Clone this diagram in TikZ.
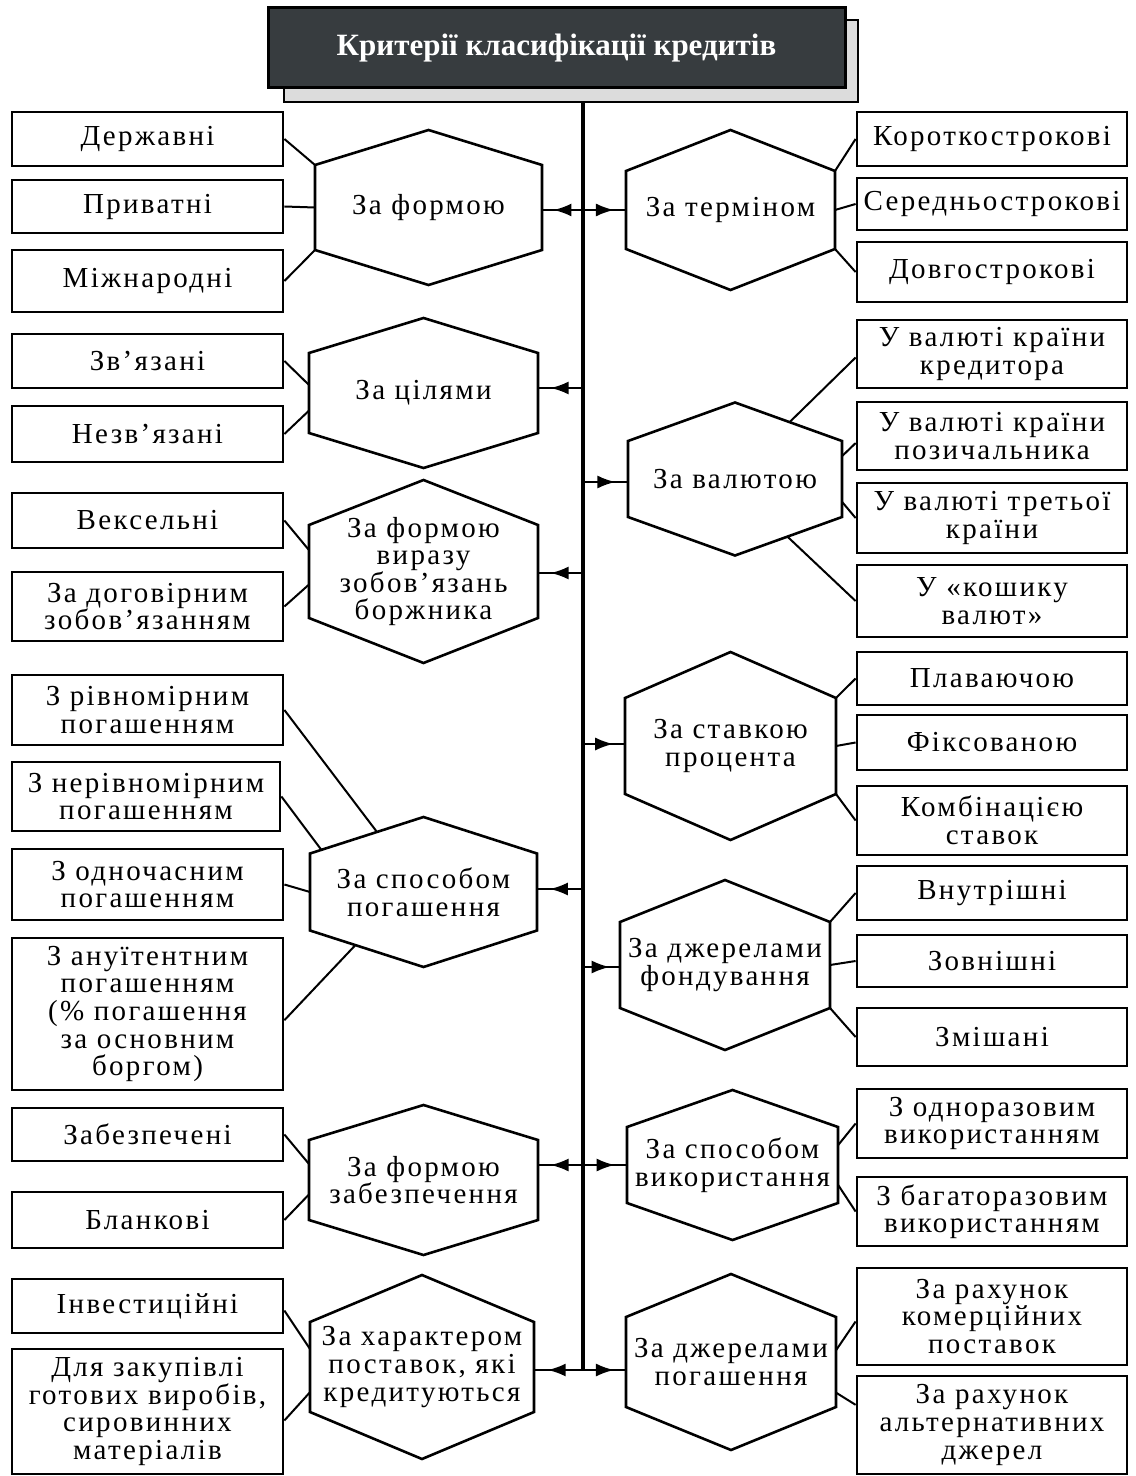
\documentclass[tikz,border=0pt]{standalone}
\usepackage{fontspec}
\setmainfont{Liberation Serif}[LetterSpace=8]
\newfontfamily\tfont{Liberation Serif}
\usetikzlibrary{calc,arrows.meta,decorations.markings}
\definecolor{titlegray}{RGB}{55,60,63}
\definecolor{shadowgray}{RGB}{220,220,220}
\tikzset{
 box/.style={draw, line width=1.4pt, fill=white, align=center, inner sep=1pt,
   font=\fontsize{14.5}{13.8}\selectfont},
 hexline/.style={draw, line width=1.3pt, line join=miter, fill=white},
 hextext/.style={align=center, inner sep=0pt, font=\fontsize{14.5}{13.8}\selectfont},
 link/.style={line width=1pt},
 feed/.style={line width=1pt, postaction={decorate},
   decoration={markings, mark=at position 0.72 with {\arrow{Latex[length=9pt,width=6.5pt]}}}},
}
% \myhex{name}{cx}{cy}{half width}{half height}{half side}{text}
\newcommand{\myhex}[7]{%
 \coordinate (#1-t) at (#2,#3-#5);
 \coordinate (#1-ur) at (#2+#4,#3-#6);
 \coordinate (#1-lr) at (#2+#4,#3+#6);
 \coordinate (#1-b) at (#2,#3+#5);
 \coordinate (#1-ll) at (#2-#4,#3+#6);
 \coordinate (#1-ul) at (#2-#4,#3-#6);
 \coordinate (#1-w) at (#2-#4,#3);
 \coordinate (#1-e) at (#2+#4,#3);
 \draw[hexline] (#1-t)--(#1-ur)--(#1-lr)--(#1-b)--(#1-ll)--(#1-ul)--cycle;
 \node[hextext] (#1) at (#2,#3) {#7};
}
% \bx{name}{cx}{cy}{width px}{height px}{text}
\newcommand{\bx}[6]{%
 \node[box, minimum width=#4*0.5pt, minimum height=#5*0.5pt] (#1) at (#2,#3) {#6};
}
\begin{document}
\begin{tikzpicture}[x=0.5pt,y=-0.5pt]
\useasboundingbox (0,0) rectangle (1135,1476);
% spine
\coordinate (sTop) at (583,102);
\coordinate (sBot) at (583,1370);
\draw[line width=2pt] (sTop) -- (sBot);
% title
\node[draw, line width=1pt, fill=shadowgray, minimum width=574*0.5pt, minimum height=82*0.5pt] (shadow) at (571,61) {};
\node[draw, line width=1.5pt, fill=titlegray, minimum width=577*0.5pt, minimum height=80*0.5pt,
  text=white, font=\tfont\bfseries\fontsize{15.5}{18}\selectfont] (title) at (556.5,48) {Критерії класифікації кредитів};

% spine points
\coordinate (sp1) at (583,210);
\coordinate (sp2) at (583,388);
\coordinate (sp3) at (583,482);
\coordinate (sp4) at (583,573);
\coordinate (sp5) at (583,744);
\coordinate (sp6) at (583,889);
\coordinate (sp7) at (583,967);
\coordinate (sp8) at (583,1165);
\coordinate (sp9) at (583,1370);

% left hexagons
\myhex{H1}{428.5}{207.5}{113.5}{77.5}{42.5}{За формою}
\myhex{H2}{423.5}{393}{114.5}{75}{40}{За цілями}
\myhex{H3}{423.5}{571.5}{114.5}{91.5}{46.5}{За формою\\виразу\\зобов’язань\\боржника}
\myhex{H4}{423.5}{892}{113.5}{75}{38.5}{За способом\\погашення}
\myhex{H5}{423.5}{1180}{114.5}{75}{40}{За формою\\забезпечення}
\myhex{H6}{422}{1367}{112}{92}{45}{За характером\\поставок, які\\кредитуються}
% right hexagons
\myhex{R1}{730.5}{210}{104.5}{80}{39}{За терміном}
\myhex{R2}{735}{479}{107}{76.5}{38}{За валютою}
\myhex{R3}{730.5}{746}{105.5}{94}{48}{За ставкою\\процента}
\myhex{R4}{725}{965}{105}{85}{43}{За джерелами\\фондування}
\myhex{R5}{732.5}{1165}{105.5}{75}{38}{За способом\\використання}
\myhex{R6}{731}{1362}{105}{88}{45}{За джерелами\\погашення}

% feeds from spine
\draw[feed] (sp1) -- (sp1 -| H1-e);
\draw[feed] (sp1) -- (sp1 -| R1-w);
\draw[feed] (sp2) -- (sp2 -| H2-e);
\draw[feed] (sp3) -- (sp3 -| R2-w);
\draw[feed] (sp4) -- (sp4 -| H3-e);
\draw[feed] (sp5) -- (sp5 -| R3-w);
\draw[feed] (sp6) -- (sp6 -| H4-e);
\draw[feed] (sp7) -- (sp7 -| R4-w);
\draw[feed] (sp8) -- (sp8 -| H5-e);
\draw[feed] (sp8) -- (sp8 -| R5-w);
\draw[feed] (sp9) -- (sp9 -| H6-e);
\draw[feed] (sp9) -- (sp9 -| R6-w);

% left boxes
\bx{L1}{147.5}{139}{271}{54}{Державні}
\bx{L2}{147.5}{206.5}{271}{53}{Приватні}
\bx{L3}{147.5}{281}{271}{62}{Міжнародні}
\bx{L4}{147.5}{361}{271}{54}{Зв’язані}
\bx{L5}{147.5}{434}{271}{56}{Незв’язані}
\bx{L6}{147.5}{520.5}{271}{55}{Вексельні}
\bx{L7}{147.5}{606.5}{271}{69}{За договірним\\зобов’язанням}
\bx{L8}{147.5}{710}{271}{70}{З рівномірним\\погашенням}
\bx{L9}{146}{796.5}{268}{69}{З нерівномірним\\погашенням}
\bx{L10}{147.5}{884.5}{271}{71}{З одночасним\\погашенням}
\bx{L11}{147.5}{1014}{271}{152}{З ануїтентним\\погашенням\\(\% погашення\\за основним\\боргом)}
\bx{L12}{147.5}{1134.5}{271}{53}{Забезпечені}
\bx{L13}{147.5}{1220}{271}{56}{Бланкові}
\bx{L14}{147.5}{1306}{271}{54}{Інвестиційні}
\bx{L15}{147.5}{1411.5}{271}{125}{Для закупівлі\\готових виробів,\\сировинних\\матеріалів}
% right boxes
\bx{Q1}{992}{139}{270}{54}{Короткострокові}
\bx{Q2}{992}{204}{270}{52}{Середньострокові}
\bx{Q3}{992}{272}{270}{60}{Довгострокові}
\bx{Q4}{992}{354}{270}{68}{У валюті країни\\кредитора}
\bx{Q5}{992}{436}{270}{68}{У валюті країни\\позичальника}
\bx{Q6}{992}{518}{270}{70}{У валюті третьої\\країни}
\bx{Q7}{992}{601}{270}{72}{У «кошику\\валют»}
\bx{Q8}{992}{678.5}{270}{53}{Плаваючою}
\bx{Q9}{992}{742.5}{270}{55}{Фіксованою}
\bx{Q10}{992}{820.5}{270}{69}{Комбінацією\\ставок}
\bx{Q11}{992}{893}{270}{54}{Внутрішні}
\bx{Q12}{992}{961}{270}{52}{Зовнішні}
\bx{Q13}{992}{1037}{270}{58}{Змішані}
\bx{Q14}{992}{1123.5}{270}{69}{З одноразовим\\використанням}
\bx{Q15}{992}{1211.5}{270}{69}{З багаторазовим\\використанням}
\bx{Q16}{992}{1316.5}{270}{97}{За рахунок\\комерційних\\поставок}
\bx{Q17}{992}{1425}{270}{98}{За рахунок\\альтернативних\\джерел}

% links left
\draw[link] (L1.east) -- (H1-ul);
\draw[link] (L2.east) -- (H1-w);
\draw[link] (L3.east) -- (H1-ll);
\draw[link] (L4.east) -- ($(H2-ul)!0.4!(H2-ll)$);
\draw[link] (L5.east) -- ($(H2-ul)!0.72!(H2-ll)$);
\draw[link] (L6.east) -- ($(H3-ul)!0.27!(H3-ll)$);
\draw[link] (L7.east) -- ($(H3-ul)!0.64!(H3-ll)$);
\draw[link] ($(L8.north east)!0.5!(L8.south east)$) -- ($(H4-ul)!0.59!(H4-t)$);
\draw[link] (L9.east) -- ($(H4-ul)!0.1!(H4-t)$);
\draw[link] (L10.east) -- (H4-w);
\draw[link] ($(L11.north east)!0.54!(L11.south east)$) -- ($(H4-ll)!0.4!(H4-b)$);
\draw[link] (L12.east) -- ($(H5-ul)!0.3!(H5-ll)$);
\draw[link] (L13.east) -- ($(H5-ul)!0.68!(H5-ll)$);
\draw[link] ($(L14.north east)!0.58!(L14.south east)$) -- ($(H6-ul)!0.3!(H6-ll)$);
\draw[link] ($(L15.north east)!0.57!(L15.south east)$) -- ($(H6-ul)!0.78!(H6-ll)$);
% links right
\draw[link] (R1-ur) -- (Q1.west);
\draw[link] (R1-e) -- (Q2.west);
\draw[link] (R1-lr) -- (Q3.west);
\draw[link] ($(R2-t)!0.51!(R2-ur)$) -- ($(Q4.north west)!0.55!(Q4.south west)$);
\draw[link] ($(R2-ur)!0.2!(R2-lr)$) -- ($(Q5.north west)!0.6!(Q5.south west)$);
\draw[link] ($(R2-ur)!0.8!(R2-lr)$) -- (Q6.west);
\draw[link] ($(R2-b)!0.49!(R2-lr)$) -- (Q7.west);
\draw[link] (R3-ur) -- (Q8.west);
\draw[link] (R3-e) -- (Q9.west);
\draw[link] (R3-lr) -- (Q10.west);
\draw[link] (R4-ur) -- (Q11.west);
\draw[link] (R4-e) -- (Q12.west);
\draw[link] (R4-lr) -- (Q13.west);
\draw[link] ($(R5-ur)!0.24!(R5-lr)$) -- (Q14.west);
\draw[link] ($(R5-ur)!0.76!(R5-lr)$) -- (Q15.west);
\draw[link] ($(R6-ur)!0.37!(R6-lr)$) -- ($(Q16.north west)!0.55!(Q16.south west)$);
\draw[link] ($(R6-ur)!0.84!(R6-lr)$) -- ($(Q17.north west)!0.3!(Q17.south west)$);
\end{tikzpicture}
\end{document}
